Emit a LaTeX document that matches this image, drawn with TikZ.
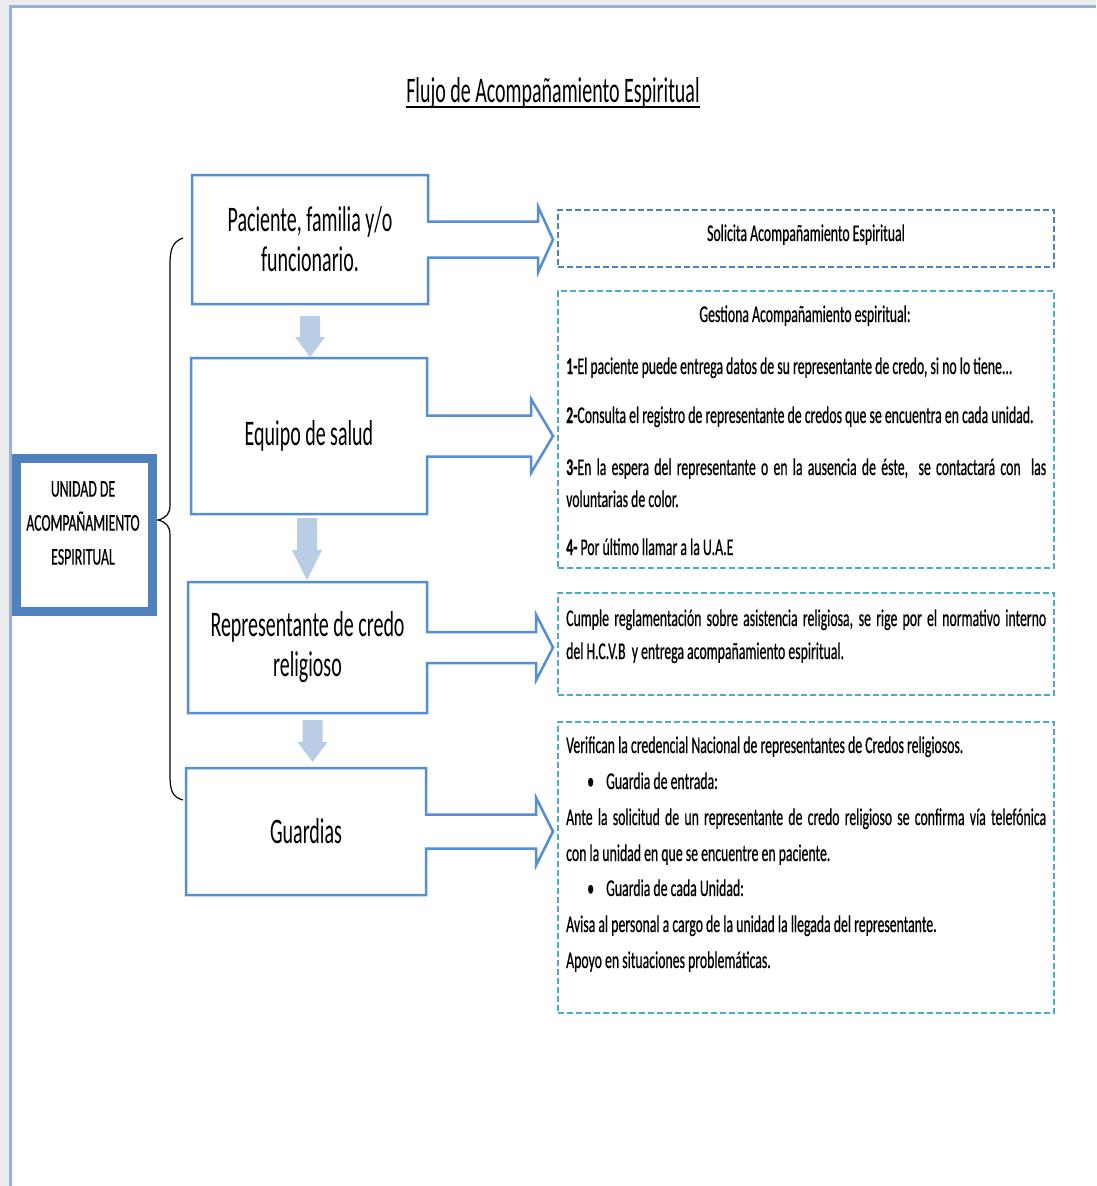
\documentclass[tikz,border=0pt]{standalone}
\usepackage{fontspec}
\setmainfont[FakeStretch=0.555]{Carlito}
\newfontfamily\bodyfont[FakeStretch=0.574, FakeBold=0.5]{Carlito}
\usetikzlibrary{calc}
\definecolor{boxblue}{RGB}{85,142,213}
\definecolor{darkblue}{RGB}{79,129,189}
\definecolor{aqua}{RGB}{75,172,198}
\definecolor{arrfill}{RGB}{185,205,229}
\definecolor{pageline}{RGB}{149,179,215}
\definecolor{pagegray}{RGB}{236,236,236}
\newcommand\fs[2]{\fontsize{#1}{#2}\selectfont}
% callout outline: box + right block arrow to a target node
\newcommand\callout[5]{%
  \draw[callout] let \p1=(#1.east), \p2=(#2.west) in
  (#1.north west) -- (#1.north east) -- (\x1,\y1+#3) -- (\x2-5pt-#5,\y1+#3)
  -- (\x2-5pt-#5,\y1+#4) -- (\x2-5pt,\y1) -- (\x2-5pt-#5,\y1-#4)
  -- (\x2-5pt-#5,\y1-#3) -- (\x1,\y1-#3) -- (#1.south east) -- (#1.south west) -- cycle;}
% down block arrow between two boxes
\newcommand\dnarrow[6]{%
  \fill[arrfill] let \p1=(#1.south), \p2=(#2.north) in
  (\x1+#3-10pt,\y1-#4) -- (\x1+#3+10pt,\y1-#4) -- (\x1+#3+10pt,\y2+#6+#5)
  -- (\x1+#3+15pt,\y2+#6+#5) -- (\x1+#3,\y2+#6) -- (\x1+#3-15pt,\y2+#6+#5)
  -- (\x1+#3-10pt,\y2+#6+#5) -- cycle;}
\begin{document}
\begin{tikzpicture}[x=1pt,y=-1pt,
  lbox/.style={inner sep=0pt, outer sep=0pt, align=center, font=\fs{36}{40}},
  callout/.style={draw=boxblue, line width=2.5pt, line join=miter},
  rbox/.style={draw=aqua, line width=2.5pt, dash pattern=on 6pt off 3pt, inner sep=0pt, outer sep=0pt, minimum width=496pt},
  body/.style={anchor=west, inner sep=0pt, font=\bodyfont\fs{24}{28}, text height=18pt, text depth=6pt},
  ctext/.style={inner sep=0pt, font=\bodyfont\fs{24}{28}, text height=18pt, text depth=6pt}]
\useasboundingbox (0,0) rectangle (1096,1186);
\fill[pagegray] (0,0) rectangle (1096,1186);
\fill[white] (10,6) rectangle (1096,1186);
\draw[pageline, line width=3pt] (10,1186) -- (10,6) -- (1096,6);

% title
\node[inner sep=0pt, font=\fs{36}{40}, text height=27pt, text depth=9pt] (title) at (553,93) {Flujo de Acompañamiento Espiritual};
\draw[line width=2pt] ($(title.base west)+(0,5)$) -- ($(title.base east)+(0,5)$);

% left boxes
\node[lbox, minimum width=236pt, minimum height=129pt] (b1) at (310,239.5) {Paciente, familia y/o\\funcionario.};
\node[lbox, minimum width=236pt, minimum height=156pt] (b2) at (309,436) {Equipo de salud};
\node[lbox, minimum width=239pt, minimum height=131pt] (b3) at (307.5,647.5) {Representante de credo\\religioso};
\node[lbox, minimum width=240pt, minimum height=127pt] (b4) at (306,831.5) {Guardias};

% right dashed boxes
\node[rbox, draw=darkblue, minimum height=57pt] (r1) at (806,238.5) {};
\node[rbox, minimum height=277pt] (r2) at (806,429.5) {};
\node[rbox, minimum height=102pt] (r3) at (806,644) {};
\node[rbox, minimum height=291pt] (r4) at (806,867.5) {};

% callouts
\callout{b1}{r1}{18pt}{33pt}{15pt}
\callout{b2}{r2}{20.5pt}{37pt}{22pt}
\callout{b3}{r3}{15.5pt}{33pt}{17pt}
\callout{b4}{r4}{17pt}{34pt}{17pt}

% down arrows
\dnarrow{b1}{b2}{0pt}{12pt}{20pt}{1pt}
\dnarrow{b2}{b3}{-2pt}{4pt}{30pt}{2pt}
\dnarrow{b3}{b4}{5pt}{7pt}{20pt}{6pt}

% unit box
\node[draw=darkblue, line width=9pt, minimum width=136pt, minimum height=153pt, inner sep=0pt] (u) at (84.5,535) {};
\node[align=center, inner sep=0pt, font=\bodyfont\fs{24}{34}] (ut) at (83,523) {UNIDAD DE\\ACOMPAÑAMIENTO\\ESPIRITUAL};

% brace
\draw[line width=1.2pt] (183,238) .. controls (172,242) and (170,250) .. (170,265) -- (170,505)
  .. controls (170,514) and (166,518) .. (158,520) .. controls (166,522) and (170,526) .. (170,535)
  -- (170,775) .. controls (170,790) and (172,797) .. (183,800);

% right texts
\node[ctext] (t1) at (806,235) {Solicita Acompañamiento Espiritual};
\node[ctext] (g0) at (805,316) {Gestiona Acompañamiento espiritual:};
\node[body] (l1) at (566,368) {\textbf{1-}El paciente puede entrega datos de su representante de credo, si no lo tiene...};
\node[body] (l2) at (566,417) {\textbf{2-}Consulta el registro de representante de credos que se encuentra en cada unidad.};
\node[body] (l3) at (566,469) {\makebox[480pt][s]{\textbf{3-}En la espera del representante o en la ausencia de éste,\ \ se contactará con\ \ las}};
\node[body] (l4) at (566,501) {voluntarias de color.};
\node[body] (l5) at (566,549) {\textbf{4-} Por último llamar a la U.A.E};

\node[body] (m1) at (566,620) {\makebox[480pt][s]{Cumple reglamentación sobre asistencia religiosa, se rige por el normativo interno}};
\node[body] (m2) at (566,653) {del H.C.V.B\ \ y entrega acompañamiento espiritual.};

\node[body] (n1) at (566,747) {Verifican la credencial Nacional de representantes de Credos religiosos.};
\node[body] (n2b) at (587,783) {•};
\node[body] (n2) at (606,783) {Guardia de entrada:};
\node[body] (n3) at (566,819) {\makebox[480pt][s]{Ante la solicitud de un representante de credo religioso se confirma vía telefónica}};
\node[body] (n4) at (566,855) {con la unidad en que se encuentre en paciente.};
\node[body] (n5b) at (587,890) {•};
\node[body] (n5) at (606,890) {Guardia de cada Unidad:};
\node[body] (n6) at (566,926) {Avisa al personal a cargo de la unidad la llegada del representante.};
\node[body] (n7) at (566,962) {Apoyo en situaciones problemáticas.};
\end{tikzpicture}
\end{document}
